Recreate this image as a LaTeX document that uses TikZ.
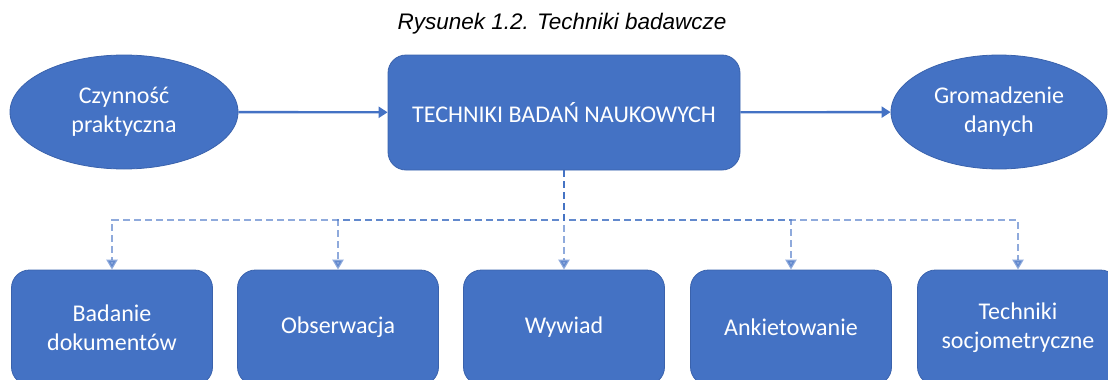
\documentclass[tikz,border=0pt]{standalone}
\usepackage{fontspec}
\setmainfont{Liberation Sans}
\newfontfamily\carl{Carlito}
\usetikzlibrary{shapes.geometric,arrows.meta}
\definecolor{boxblue}{HTML}{4472C4}
\definecolor{edgeblue}{HTML}{3A62AC}
\tikzset{
  shapebase/.style={fill=boxblue, draw=edgeblue, line width=0.8pt, text=white,
    align=center, inner sep=0pt, font=\carl\fontsize{24}{29}\selectfont},
  oval/.style={shapebase, ellipse, minimum width=228pt, minimum height=114pt},
  mainbox/.style={shapebase, rectangle, rounded corners=18pt, minimum width=352pt, minimum height=115pt},
  techbox/.style={shapebase, rectangle, rounded corners=18pt, minimum width=201pt, minimum height=115pt},
  solidarrow/.style={draw=boxblue, line width=2.4pt, -{Triangle[width=11pt,length=9pt]}},
  dasharrow/.style={draw=boxblue, line width=2.4pt, dash pattern=on 7pt off 4pt,
    draw opacity=0.6, fill opacity=0.6, -{Triangle[width=11pt,length=10pt]}},
  titletext/.style={font=\itshape\fontsize{22.5}{27}\selectfont, text=black, inner sep=0pt}
}
\begin{document}
\begin{tikzpicture}[x=1pt,y=-1pt]
\useasboundingbox (0,0) rectangle (1108,380);
\node[titletext] (title) at (562,24) {Rysunek 1.2. Techniki badawcze};
\node[oval] (left) at (124,112) {Czynność\\praktyczna};
\node[mainbox] (main) at (564,112.5) {TECHNIKI BADAŃ NAUKOWYCH};
\node[oval, minimum width=216pt] (right) at (999,112) {Gromadzenie\\danych};
\node[techbox] (b1) at (112,327.5) {Badanie\\dokumentów};
\node[techbox] (b2) at (338,327.5) {Obserwacja};
\node[techbox] (b3) at (564,327.5) {Wywiad};
\node[techbox] (b4) at (791,327.5) {Ankietowanie};
\node[techbox] (b5) at (1018,327.5) {Techniki\\socjometryczne};
\coordinate (bus) at (0,220);
\draw[solidarrow] (left) -- (main);
\draw[solidarrow] (main) -- (right);
\foreach \b in {b1,b2,b3,b4,b5}{
  \draw[dasharrow] (main.south) -- (main.south |- bus) -| (\b.north);
}
\end{tikzpicture}
\end{document}
